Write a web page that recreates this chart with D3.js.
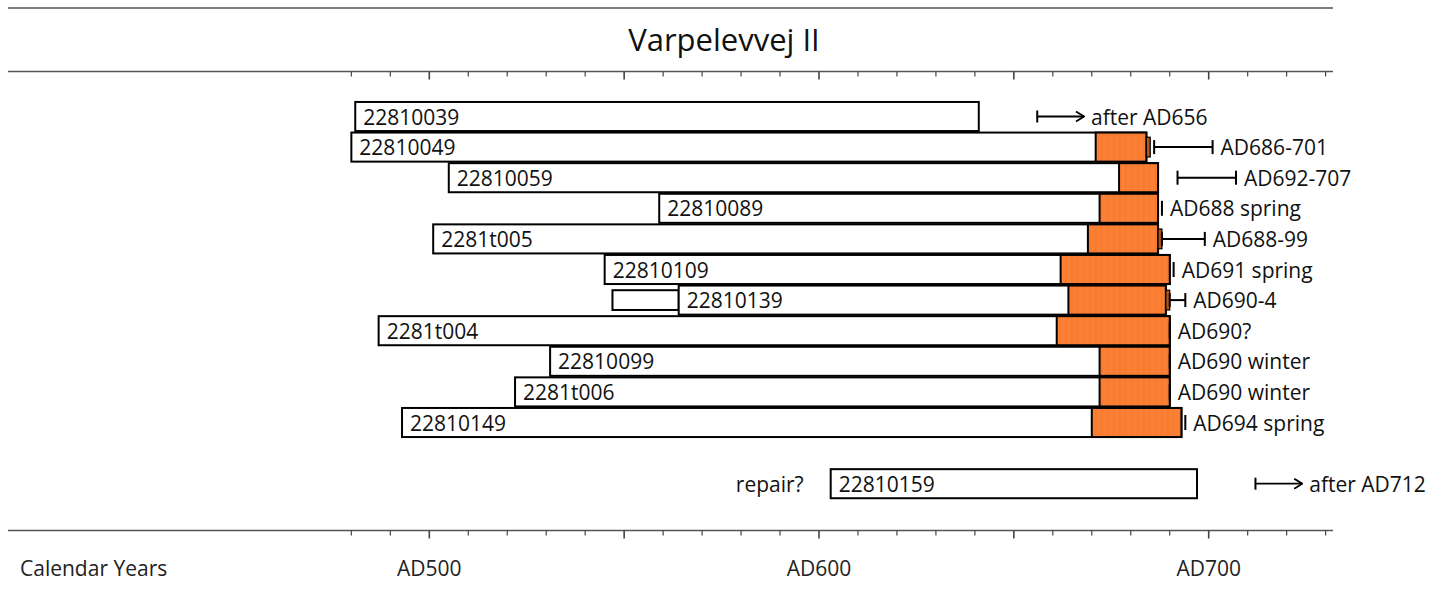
<!DOCTYPE html>
<html>
<head>
<meta charset="utf-8">
<script src="https://cdn.jsdelivr.net/npm/d3@7"></script>
<style>
  html, body { margin: 0; padding: 0; background: #fff; }
  svg { display: block; font-family: "Open Sans", sans-serif; }
</style>
</head>
<body>
<svg id="chart" width="1444" height="590"></svg>
<script>
// ---------------- data ----------------
const samples   = ["22810039","22810049","22810059","22810089","2281t005","22810109","22810139","2281t004","22810099","2281t006","22810149"];
const startYr   = [481, 480, 505, 559, 501, 545, 564, 487, 531, 522, 493];
const endYr     = [641, 684, 687, 687, 687, 690, 689, 690, 690, 690, 693];
const sapStart  = [null, 671, 677, 672, 669, 662, 664, 661, 672, 672, 670];
const edgeRows  = ["22810049", "2281t005", "22810139"];
const markerType = ["after","range","range","point","range","point","range","point","point","point","point"];
const markerFrom = [656, 686, 692, 688, 688, 691, 690, 690, 690, 690, 694];
const markerTo   = [668, 701, 707, null, 699, null, 694, null, null, null, null];
const markerText = ["after AD656","AD686-701","AD692-707","AD688 spring","AD688-99","AD691 spring","AD690-4","AD690?","AD690 winter","AD690 winter","AD694 spring"];
// extra (shorter) segment on one sample
const extraSample = ["22810139"];
const extraFrom   = [547];
const extraTo     = [564];
// repair timber
const repairSample = ["22810159"];
const repairStart  = [603];
const repairEnd    = [697];
const repairAfter  = [712];
const repairAfterEnd = [724];
const repairText   = ["after AD712"];
const repairNote   = ["repair?"];
// axis
const tickYears  = d3.range(480, 731, 10);
const labelYears = [500, 600, 700];
const title = "Varpelevvej II";
const axisTitle = "Calendar Years";

// ---------------- layout ----------------
const svg = d3.select("#chart");
const x = d3.scaleLinear().domain([500, 700]).range([429.3, 1208.7]);
const rowKeys = samples.concat(["_gap"], repairSample);
const y = d3.scaleBand().domain(rowKeys).range([101.2, 101.2 + 30.6 * rowKeys.length]).paddingInner(0.05).paddingOuter(0.025);
const bh = y.bandwidth();
const cy = k => y(k) + bh / 2;

const ORANGE = "#fc7f36";
const defs = svg.append("defs");
const pat = defs.append("pattern").attr("id", "sap").attr("patternUnits", "userSpaceOnUse")
  .attr("width", 6).attr("height", 10);
pat.append("rect").attr("width", 6).attr("height", 10).attr("fill", ORANGE);
pat.append("rect").attr("x", 3).attr("width", 1.5).attr("height", 10).attr("fill", "#f77a2c");

defs.append("marker").attr("id", "arr").attr("viewBox", "0 0 12 12").attr("refX", 11).attr("refY", 6)
  .attr("markerWidth", 12).attr("markerHeight", 12).attr("markerUnits", "userSpaceOnUse").attr("orient", "auto")
  .append("path").attr("d", "M3,1 L11,6 L3,11").attr("fill", "none").attr("stroke", "#000").attr("stroke-width", 1.8);

// ---------------- frame lines & axes ----------------
const lineX0 = 8, lineX1 = 1333;
svg.append("line").attr("x1", lineX0).attr("x2", lineX1).attr("y1", 8).attr("y2", 8)
  .attr("stroke", "#555").attr("stroke-width", 1.5);

function drawAxis(yPos) {
  const g = svg.append("g").attr("transform", `translate(0,${yPos})`);
  g.append("line").attr("x1", lineX0).attr("x2", lineX1).attr("stroke", "#555").attr("stroke-width", 1.5);
  g.selectAll("line.tick").data(tickYears).join("line").attr("class", "tick")
    .attr("x1", d => x(d)).attr("x2", d => x(d)).attr("y1", 0)
    .attr("y2", d => d % 50 === 0 ? 8 : 5)
    .attr("stroke", "#444").attr("stroke-width", d => d % 50 === 0 ? 1.6 : 1.2);
  return g;
}
drawAxis(71.5);
drawAxis(530.5);

svg.append("text").attr("x", 724).attr("y", 51).attr("text-anchor", "middle")
  .attr("font-size", 31).attr("fill", "#111").text(title);

svg.selectAll("text.xl").data(labelYears).join("text").attr("class", "xl")
  .attr("x", d => x(d)).attr("y", 576).attr("text-anchor", "middle")
  .attr("font-size", 21).attr("fill", "#222").text(d => "AD" + d);
svg.append("text").attr("x", 20).attr("y", 576).attr("font-size", 21).attr("fill", "#222").text(axisTitle);

// ---------------- bars ----------------
const rows = samples.map((s, i) => ({
  s, start: startYr[i], end: endYr[i], sap: sapStart[i],
  type: markerType[i], from: markerFrom[i], to: markerTo[i], text: markerText[i]
}));

// extra short segment
extraSample.forEach((s, i) => {
  const h = bh * 0.68;
  svg.append("rect").attr("x", x(extraFrom[i])).attr("width", x(extraTo[i]) - x(extraFrom[i]))
    .attr("y", cy(s) - h / 2).attr("height", h)
    .attr("fill", "#fff").attr("stroke", "#000").attr("stroke-width", 2);
});

const bars = svg.append("g");
rows.forEach(r => {
  bars.append("rect").attr("x", x(r.start)).attr("y", y(r.s)).attr("width", x(r.end) - x(r.start)).attr("height", bh)
    .attr("fill", "#fff").attr("stroke", "#000").attr("stroke-width", 2);
  if (r.sap != null) {
    bars.append("rect").attr("x", x(r.sap)).attr("y", y(r.s)).attr("width", x(r.end) - x(r.sap)).attr("height", bh)
      .attr("fill", "url(#sap)").attr("stroke", "#000").attr("stroke-width", 2);
  }
  if (edgeRows.includes(r.s)) {
    const h = bh * 0.68;
    bars.append("rect").attr("x", x(r.end)).attr("y", cy(r.s) - h / 2).attr("width", x(r.end + 1) - x(r.end)).attr("height", h)
      .attr("fill", "#b4531a").attr("stroke", "#000").attr("stroke-width", 1.2);
  }
  bars.append("text").attr("x", x(r.start) + 8).attr("y", cy(r.s) + 8)
    .attr("font-size", 21).attr("fill", "#111").text(r.s);
});

// ---------------- markers ----------------
const mk = svg.append("g").attr("stroke", "#000").attr("fill", "none");
function capLine(xp, c, h) {
  mk.append("line").attr("x1", xp).attr("x2", xp).attr("y1", c - h / 2).attr("y2", c + h / 2).attr("stroke-width", 2);
}
function drawMarker(key, type, from, to, text) {
  const c = cy(key);
  let tx;
  if (type === "after") {
    capLine(x(from), c, 12);
    mk.append("line").attr("x1", x(from)).attr("x2", x(to)).attr("y1", c).attr("y2", c)
      .attr("stroke-width", 1.8).attr("marker-end", "url(#arr)");
    tx = x(to) + 7;
  } else if (type === "range") {
    capLine(x(from), c, 14);
    capLine(x(to), c, 14);
    mk.append("line").attr("x1", x(from)).attr("x2", x(to)).attr("y1", c).attr("y2", c).attr("stroke-width", 2);
    tx = x(to) + 8;
  } else {
    capLine(x(from), c, 15);
    tx = x(from) + 8;
  }
  svg.append("text").attr("x", tx).attr("y", c + 8).attr("font-size", 21).attr("fill", "#111").text(text);
}
rows.forEach(r => drawMarker(r.s, r.type, r.from, r.to, r.text));

// ---------------- repair timber ----------------
repairSample.forEach((s, i) => {
  svg.append("rect").attr("x", x(repairStart[i])).attr("y", y(s)).attr("width", x(repairEnd[i]) - x(repairStart[i])).attr("height", bh)
    .attr("fill", "#fff").attr("stroke", "#000").attr("stroke-width", 2);
  svg.append("text").attr("x", x(repairStart[i]) + 8).attr("y", cy(s) + 8).attr("font-size", 21).attr("fill", "#111").text(s);
  svg.append("text").attr("x", x(repairStart[i]) - 27).attr("y", cy(s) + 8).attr("text-anchor", "end")
    .attr("font-size", 21).attr("fill", "#111").text(repairNote[i]);
  drawMarker(s, "after", repairAfter[i], repairAfterEnd[i], repairText[i]);
});
</script>
</body>
</html>
